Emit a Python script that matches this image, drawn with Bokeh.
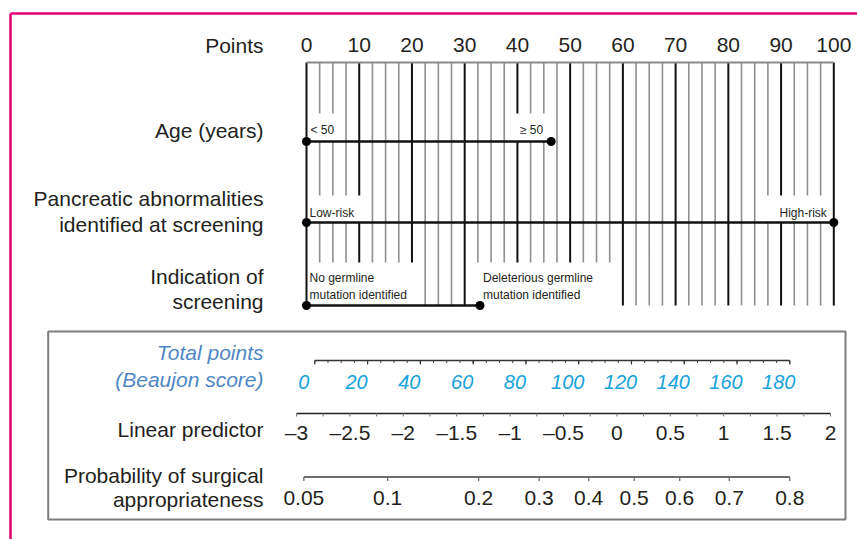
import numpy as np
from bokeh.plotting import figure
from bokeh.models import Range1d
from bokeh.core.properties import value
from bokeh.embed import file_html
from bokeh.resources import INLINE

# ---------------- data ----------------
point_ticks = [0, 10, 20, 30, 40, 50, 60, 70, 80, 90, 100]
point_tick_labels = ["0", "10", "20", "30", "40", "50", "60", "70", "80", "90", "100"]
grid_step = 2.5

age_levels = ["< 50", "\u2265 50"]
age_points = [0, 46.4]
panc_levels = ["Low-risk", "High-risk"]
panc_points = [0, 100]
ind_levels = ["No germline\nmutation identified", "Deleterious germline\nmutation identified"]
ind_points = [0, 32.9]

total_ticks = [0, 20, 40, 60, 80, 100, 120, 140, 160, 180]
total_tick_labels = ["0", "20", "40", "60", "80", "100", "120", "140", "160", "180"]
total_minor_step = 5

lp_ticks = [-3, -2.5, -2, -1.5, -1, -0.5, 0, 0.5, 1, 1.5, 2]
lp_tick_labels = ["\u20133", "\u20132.5", "\u20132", "\u20131.5", "\u20131", "\u20130.5",
                  "0", "0.5", "1", "1.5", "2"]
lp_minor_step = 0.25

prob_ticks = [0.05, 0.1, 0.2, 0.3, 0.4, 0.5, 0.6, 0.7, 0.8]
prob_tick_labels = ["0.05", "0.1", "0.2", "0.3", "0.4", "0.5", "0.6", "0.7", "0.8"]

# ---------------- layout ----------------
W, H = 857, 539
PX0, PX1 = 0, W
FONT = value("Liberation Sans")
INK = "#231f20"
BIG = "21px"


def rng(v0, p0, v1, p1):
    s = (p1 - p0) / (v1 - v0)
    return Range1d(v0 + (PX0 - p0) / s, v0 + (PX1 - p0) / s)


p = figure(width=W, height=H, output_backend="svg", toolbar_location=None,
           x_range=rng(0, 306, 100, 833.3), y_range=Range1d(H, 0),
           x_axis_type=None, y_axis_type=None, min_border=0,
           outline_line_color=None, background_fill_color="white",
           border_fill_color="white")
p.grid.visible = False
p.extra_x_ranges = {
    "px": Range1d(PX0, PX1),
    "tot": rng(0, 314.3, 180, 789.3),
    "lp": rng(-3, 296, 2, 830),
    "logit": rng(0, 633.7, 1, 633.7 + 112.2),
}

Y_HEAD, Y_AXIS, Y_AGE, Y_PANC, Y_IND = 44.5, 62, 141, 222, 305

# vertical grid lines
grid = np.arange(0, 100 + 1e-9, grid_step)
major = [g for g in grid if abs(g / 10 - round(g / 10)) < 1e-9]
minor = [g for g in grid if abs(g / 10 - round(g / 10)) >= 1e-9]
p.segment(x0=minor, x1=minor, y0=Y_AXIS, y1=Y_IND, line_color="#8f8f8f", line_width=1.6)
p.segment(x0=major, x1=major, y0=Y_AXIS, y1=Y_IND, line_color="#111111", line_width=2)

# white masks behind the level labels
mask_l = [1.0, 38.8, 1.0, 86.0, 1.0, 31.4]
mask_r = [6.4, 46.0, 11.2, 99.0, 21.2, 58.6]
mask_t = [113, 113, 195, 195, 262, 262]
mask_b = [Y_AGE, Y_AGE, Y_PANC, Y_PANC, Y_IND + 2, Y_IND + 6]
p.quad(left=mask_l, right=mask_r, top=mask_t, bottom=mask_b,
       fill_color="white", line_color=None)

# top points axis line
p.segment(x0=[0], x1=[100], y0=Y_AXIS, y1=Y_AXIS, line_color="#8a8a8a", line_width=2)
p.text(x=point_ticks, y=Y_HEAD, text=point_tick_labels, text_font=FONT,
       text_font_size=BIG, text_align="center", text_baseline="middle", text_color=INK)

# variable lines and dots
for pts, yy in [(age_points, Y_AGE), (panc_points, Y_PANC), (ind_points, Y_IND)]:
    p.segment(x0=[min(pts)], x1=[max(pts)], y0=yy, y1=yy, line_color="#111111", line_width=2.6)
    p.scatter(x=pts, y=[yy] * len(pts), size=9, fill_color="#000000", line_color=None)

# level labels
small = dict(text_font=FONT, text_font_size="12px", text_color=INK, text_line_height=1.25)
p.text(x=[age_points[0]], y=[Y_AGE], text=[age_levels[0]], text_align="left",
       text_baseline="middle", x_offset=4, y_offset=-12, **small)
p.text(x=[age_points[1]], y=[Y_AGE], text=[age_levels[1]], text_align="right",
       text_baseline="middle", x_offset=-8, y_offset=-12, **small)
p.text(x=[panc_points[0]], y=[Y_PANC], text=[panc_levels[0]], text_align="left",
       text_baseline="middle", x_offset=3, y_offset=-10, **small)
p.text(x=[panc_points[1]], y=[Y_PANC], text=[panc_levels[1]], text_align="right",
       text_baseline="middle", x_offset=-7, y_offset=-10, **small)
p.text(x=ind_points, y=[Y_IND] * 2, text=ind_levels, text_align="left",
       text_baseline="middle", x_offset=3, y_offset=-19, **small)

# left-hand labels
left_text = ["Points", "Age (years)", "Pancreatic abnormalities", "identified at screening",
             "Indication of", "screening", "Linear predictor",
             "Probability of surgical", "appropriateness"]
left_y = [Y_HEAD, 130, 198, 224, 276, 301, 429, 475, 499]
p.text(x=263, y=left_y, text=left_text, text_font=FONT, text_font_size=BIG,
       text_align="right", text_baseline="middle", text_color=INK, x_range_name="px")
p.text(x=263, y=[352, 379], text=["Total points", "(Beaujon score)"], text_font=FONT,
       text_font_size=BIG, text_font_style="italic", text_align="right",
       text_baseline="middle", text_color="#4f86c5", x_range_name="px")

# bottom frame
p.quad(left=[47.7], right=[845], top=[331], bottom=[519], fill_color=None,
       line_color="#7d7d7d", line_width=2, x_range_name="px")

# total points axis
Y_TOT = 360
tmin = np.arange(0, 180 + 1e-9, total_minor_step)
p.segment(x0=[0], x1=[180], y0=Y_TOT, y1=Y_TOT, line_color="#333333", line_width=1.5,
          x_range_name="tot")
p.segment(x0=tmin, x1=tmin, y0=Y_TOT, y1=Y_TOT + 2.5, line_color="#444444", line_width=1,
          x_range_name="tot")
p.segment(x0=total_ticks, x1=total_ticks, y0=Y_TOT, y1=Y_TOT + 4, line_color="#333333",
          line_width=1.2, x_range_name="tot")
p.text(x=total_ticks, y=381, text=total_tick_labels, text_font=FONT, text_font_size="20px",
       text_font_style="italic", text_align="center", text_baseline="middle",
       text_color="#16a2dc", x_offset=-11, x_range_name="tot")

# linear predictor axis
Y_LP = 413
lmin = np.arange(-3, 2 + 1e-9, lp_minor_step)
p.segment(x0=[-3], x1=[2], y0=Y_LP, y1=Y_LP, line_color="#222222", line_width=1.6,
          x_range_name="lp")
p.segment(x0=lmin, x1=lmin, y0=Y_LP, y1=Y_LP + 3, line_color="#777777", line_width=1,
          x_range_name="lp")
p.text(x=lp_ticks, y=432, text=lp_tick_labels, text_font=FONT, text_font_size=BIG,
       text_align="center", text_baseline="middle", text_color=INK, x_range_name="lp")

# probability axis (logit scale)
Y_PR = 476.5
pl = np.log(np.array(prob_ticks) / (1 - np.array(prob_ticks)))
p.segment(x0=[pl[0]], x1=[pl[-1]], y0=Y_PR, y1=Y_PR, line_color="#6e6e6e", line_width=2,
          x_range_name="logit")
p.segment(x0=pl, x1=pl, y0=Y_PR, y1=Y_PR + 4, line_color="#6e6e6e", line_width=1.3,
          x_range_name="logit")
p.text(x=pl, y=497, text=prob_tick_labels, text_font=FONT, text_font_size=BIG,
       text_align="center", text_baseline="middle", text_color=INK, x_range_name="logit")

# magenta page border
p.segment(x0=[10, 10], x1=[PX1, 10], y0=[13, 13], y1=[13, H],
          line_color="#e2007a", line_width=2.5, x_range_name="px")

open("out.html", "w").write(file_html(p, INLINE))
